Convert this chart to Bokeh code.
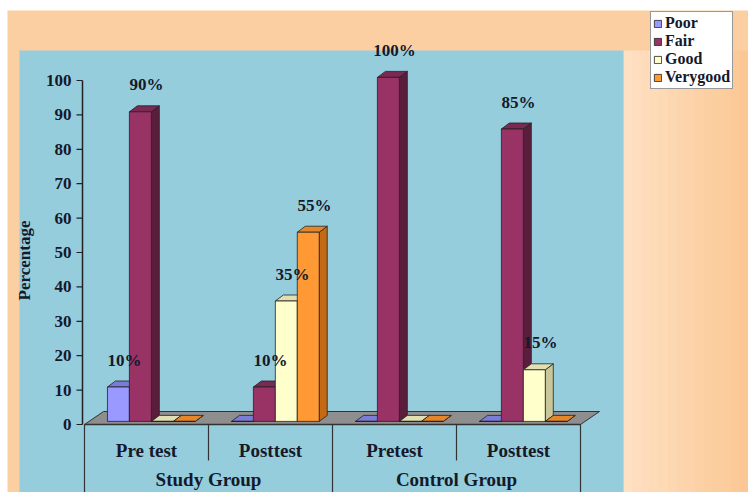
from bokeh.plotting import figure
from bokeh.models import Range1d, Legend, LegendItem
from bokeh.core.properties import value
from bokeh.embed import file_html
from bokeh.resources import INLINE
import math

# ---------------- data ----------------
categories = ["Pre test", "Posttest", "Pretest", "Posttest"]
groups = ["Study Group", "Control Group"]
series_names = ["Poor", "Fair", "Good", "Verygood"]
poor = [10, 0, 0, 0]
fair = [90, 10, 100, 85]
good = [0, 35, 0, 15]
verygood = [0, 55, 0, 0]
y_ticks = [0, 10, 20, 30, 40, 50, 60, 70, 80, 90, 100]

# ---------------- styles ----------------
W, H = 748, 492
PX_X = 124.0      # pixels per category
X0_PX = 84.0      # pixel of category 0 left edge
PX_Y = 3.44       # pixels per percent
Y0_PX = 424.0     # pixel of value 0

def X(px):
    return (px - X0_PX) / PX_X

def Y(py):
    return (Y0_PX - py) / PX_Y

FONT = value("Liberation Serif")
TXT = "#15192a"
front_col = ["#9999FF", "#993366", "#FFFFCC", "#FF9933"]
side_col = ["#6666B0", "#5A1E3C", "#C9C79A", "#C46A14"]
top_col = ["#7B7BD8", "#7A2952", "#E2DFB2", "#E6862A"]
EDGE = "#222222"

BAR_W = 0.177
START = 0.185
DX = 8 / PX_X
DY = 6 / PX_Y
OFF = 0.9

p = figure(width=W, height=H, x_range=Range1d(X(0), X(W)), y_range=Range1d(Y(H), Y(0)),
           x_axis_type=None, y_axis_type=None, toolbar_location=None,
           output_backend="svg", min_border=0, title=None)
p.outline_line_color = None
p.background_fill_color = "white"
p.border_fill_color = "white"
p.grid.visible = False

# ---------------- backgrounds ----------------
p.quad(left=[X(7)], right=[X(W)], bottom=[Y(H)], top=[Y(10)], fill_color="#FCCFA2", line_color=None)
n = 14
c0 = (0xFE, 0xE0, 0xC2)
c1 = (0xFB, 0xC8, 0x95)
for i in range(n):
    t = i / (n - 1)
    col = "#%02X%02X%02X" % tuple(int(round(a + (b - a) * t)) for a, b in zip(c0, c1))
    l = 623 + (W - 623) * i / n
    r = 623 + (W - 623) * (i + 1) / n
    p.quad(left=[X(l)], right=[X(r + 0.5)], bottom=[Y(H)], top=[Y(50)], fill_color=col, line_color=None)
p.quad(left=[X(19)], right=[X(623)], bottom=[Y(H)], top=[Y(50)], fill_color="#95CDDD", line_color=None)

# ---------------- floor ----------------
ncat = len(categories)
fdx, fdy = 19 / PX_X, 13 / PX_Y
p.patch(x=[0, ncat, ncat + fdx, fdx], y=[0, 0, fdy, fdy], fill_color="#8E8E8E",
        line_color="#333333", line_width=1)

# ---------------- axes (drawn) ----------------
ax = X(82)
p.segment(x0=[ax], y0=[0], x1=[ax], y1=[max(y_ticks)], line_color="#222222", line_width=1.5)
p.segment(x0=[ax - 6 / PX_X] * len(y_ticks), y0=y_ticks, x1=[ax] * len(y_ticks), y1=y_ticks,
          line_color="#222222", line_width=1.2)
p.text(x=[X(71)] * len(y_ticks), y=y_ticks, text=[str(t) for t in y_ticks],
       text_align="right", text_baseline="middle", text_font=FONT, text_font_style="bold",
       text_font_size="17px", text_color=TXT)
p.text(x=[X(24)], y=[Y(260)], text=["Percentage"], angle=math.pi / 2, text_align="center",
       text_baseline="middle", text_font=FONT, text_font_style="bold", text_font_size="17px",
       text_color=TXT)

# category axis lines
p.segment(x0=[0], y0=[0], x1=[ncat], y1=[0], line_color="#333333", line_width=1.5)
full = [0, 2, 4]
half = [1, 3]
p.segment(x0=full, y0=[0] * 3, x1=full, y1=[Y(H)] * 3, line_color="#333333", line_width=1.2)
p.segment(x0=half, y0=[0] * 2, x1=half, y1=[Y(460)] * 2, line_color="#333333", line_width=1.2)
p.text(x=[i + 0.5 for i in range(ncat)], y=[Y(450)] * ncat, text=categories, text_align="center",
       text_baseline="middle", text_font=FONT, text_font_style="bold", text_font_size="19px",
       text_color=TXT)
p.text(x=[2 * i + 1 for i in range(len(groups))], y=[Y(479)] * len(groups), text=groups,
       text_align="center", text_baseline="middle", text_font=FONT, text_font_style="bold",
       text_font_size="19px", text_color=TXT)

# ---------------- 3D bars ----------------
legend_items = []
all_series = [poor, fair, good, verygood]
lab_x, lab_y, lab_t = [], [], []
for idx, vals in enumerate(all_series):
    fx, fy, sx, sy, tx, ty = [], [], [], [], [], []
    for c, v in enumerate(vals):
        x0 = c + START + idx * BAR_W
        x1 = x0 + BAR_W
        b = OFF
        t = OFF + v
        fx.append([x0, x1, x1, x0]); fy.append([b, b, t, t])
        sx.append([x1, x1 + DX, x1 + DX, x1]); sy.append([b, b + DY, t + DY, t])
        tx.append([x0, x1, x1 + DX, x0 + DX]); ty.append([t, t, t + DY, t + DY])
        if v > 0:
            lab_x.append((x0 + x1) / 2 + 0.05)
            lab_y.append(v + OFF + 7.8)
            lab_t.append(f"{v}%")
    p.patches(xs=sx, ys=sy, fill_color=side_col[idx], line_color=EDGE, line_width=0.8)
    p.patches(xs=tx, ys=ty, fill_color=top_col[idx], line_color=EDGE, line_width=0.8)
    r = p.patches(xs=fx, ys=fy, fill_color=front_col[idx], line_color=EDGE, line_width=0.8)
    legend_items.append(LegendItem(label=series_names[idx], renderers=[r]))

p.text(x=lab_x, y=lab_y, text=lab_t, text_align="center", text_baseline="middle",
       text_font=FONT, text_font_style="bold", text_font_size="17px", text_color=TXT)

# ---------------- legend ----------------
legend = Legend(items=legend_items, location=(650, H - 89), orientation="vertical",
                label_text_font="Liberation Serif", label_text_font_style="bold",
                label_text_font_size="16px", label_text_color=TXT,
                glyph_width=9, glyph_height=9, label_height=18, label_standoff=3,
                spacing=0, padding=2, margin=0,
                border_line_color="#333333", border_line_width=1,
                background_fill_color="white", background_fill_alpha=1.0)
p.add_layout(legend, "center")

open("out.html", "w").write(file_html(p, INLINE))
